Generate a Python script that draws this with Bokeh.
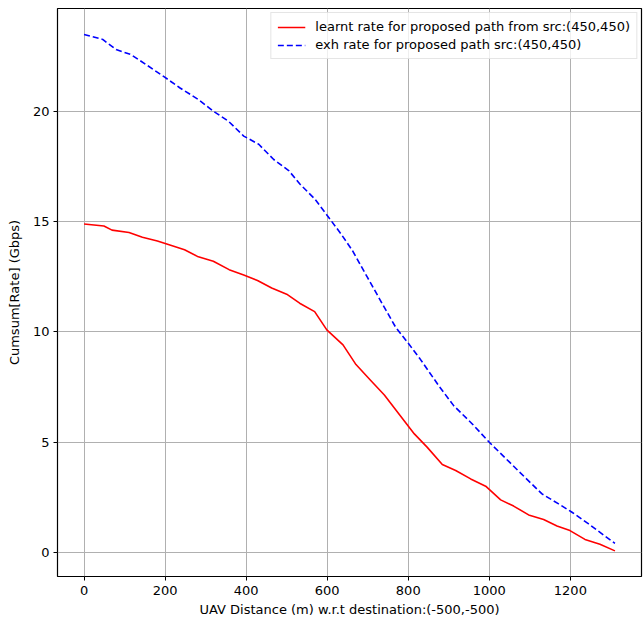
from bokeh.plotting import figure
from bokeh.models import Range1d, FixedTicker, Legend, LegendItem
from bokeh.embed import file_html
from bokeh.resources import INLINE

# learnt rate series
learnt_x = [0, 49, 69, 111, 144, 181, 208, 248, 282, 319, 358, 394, 428, 463, 500, 532,
            569, 599, 639, 671, 708, 741, 796, 815, 847, 884, 917, 954, 991, 1028, 1060,
            1097, 1134, 1167, 1199, 1236, 1273, 1310]
learnt_y = [14.89, 14.80, 14.61, 14.50, 14.29, 14.12, 13.96, 13.72, 13.40, 13.20, 12.82,
            12.58, 12.33, 11.99, 11.71, 11.30, 10.92, 10.09, 9.41, 8.52, 7.79, 7.14, 5.83,
            5.38, 4.77, 3.99, 3.72, 3.34, 3.01, 2.39, 2.11, 1.71, 1.50, 1.21, 1.00, 0.60,
            0.38, 0.08]

# exhaustive rate series
exh_x = [0, 46, 79, 116, 153, 199, 236, 282, 319, 356, 394, 431, 468, 505, 532, 569, 597,
         634, 662, 699, 736, 769, 801, 829, 875, 912, 958, 1000, 1042, 1088, 1130, 1171,
         1204, 1245, 1310]
exh_y = [23.47, 23.25, 22.79, 22.56, 22.11, 21.54, 21.06, 20.53, 20.0, 19.55, 18.87, 18.5,
         17.81, 17.31, 16.71, 16.03, 15.35, 14.44, 13.69, 12.48, 11.27, 10.21, 9.46, 8.78,
         7.57, 6.66, 5.83, 5.0, 4.24, 3.41, 2.66, 2.21, 1.83, 1.30, 0.42]

x_ticks = [0, 200, 400, 600, 800, 1000, 1200]
y_ticks = [0, 5, 10, 15, 20]

label_learnt = "learnt rate for proposed path from src:(450,450)"
label_exh = "exh rate for proposed path src:(450,450)"
x_label = "UAV Distance (m) w.r.t destination:(-500,-500)"
y_label = "Cumsum[Rate] (Gbps)"

FONT = "DejaVu Sans"

p = figure(width=644, height=620, output_backend="svg", toolbar_location=None,
           x_range=Range1d(-65.5, 1375.5), y_range=Range1d(-1.08, 24.65),
           min_border_left=57, min_border_right=3, min_border_top=8, min_border_bottom=44)

r1 = p.line(learnt_x, learnt_y, line_color="red", line_width=1.6)
r2 = p.line(exh_x, exh_y, line_color="blue", line_width=1.6, line_dash="6 3")

p.outline_line_color = "black"
p.outline_line_width = 1.2
p.outline_line_alpha = 1.0

for ax in (p.xaxis[0], p.yaxis[0]):
    ax.axis_line_color = None
    ax.major_tick_line_color = "black"
    ax.major_tick_in = 0
    ax.major_tick_out = 4
    ax.minor_tick_line_color = None
    ax.major_label_text_font = FONT
    ax.major_label_text_font_size = "13px"
    ax.major_label_text_color = "black"
    ax.axis_label_text_font = FONT
    ax.axis_label_text_font_size = "13px"
    ax.axis_label_text_font_style = "normal"
    ax.axis_label_text_color = "black"

p.xaxis[0].ticker = FixedTicker(ticks=x_ticks)
p.yaxis[0].ticker = FixedTicker(ticks=y_ticks)
p.xaxis[0].axis_label = x_label
p.yaxis[0].axis_label = y_label
p.xaxis[0].axis_label_standoff = 4
p.yaxis[0].axis_label_standoff = 8
p.xaxis[0].major_label_standoff = 5
p.yaxis[0].major_label_standoff = 4

p.xgrid.grid_line_color = "#b0b0b0"
p.ygrid.grid_line_color = "#b0b0b0"
p.xgrid.grid_line_width = 1
p.ygrid.grid_line_width = 1

legend = Legend(items=[LegendItem(label=label_learnt, renderers=[r1]),
                       LegendItem(label=label_exh, renderers=[r2])],
                location="top_right")
legend.label_text_font = FONT
legend.label_text_font_size = "13px"
legend.label_text_color = "black"
legend.border_line_color = "#cccccc"
legend.border_line_width = 1
legend.background_fill_alpha = 0.8
legend.glyph_width = 28
legend.glyph_height = 14
legend.spacing = 3
legend.padding = 6
legend.margin = 4
legend.label_standoff = 10
legend.label_height = 14
p.add_layout(legend)

p.background_fill_color = "white"
p.border_fill_color = "white"

open("out.html", "w").write(file_html(p, INLINE))
